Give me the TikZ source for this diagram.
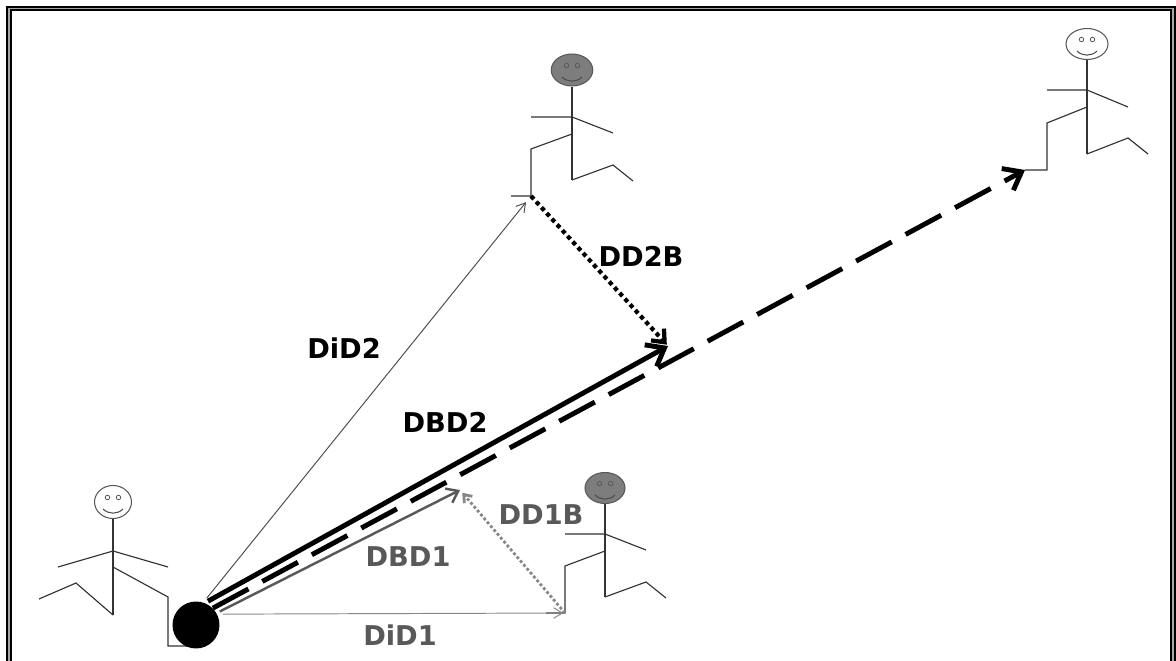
\documentclass[tikz,border=0pt]{standalone}
\usepackage{fontspec}
\setmainfont{DejaVu Sans}
\usepackage{tikz}
\usetikzlibrary{
    arrows.meta,
    shapes.geometric
}
\usepackage{xcolor}
\definecolor{labelgray}{RGB}{89,89,89}
\definecolor{facegray}{RGB}{125,125,125}
\definecolor{linegray}{RGB}{135,135,135}

% eyes and smile inside a head node
\newcommand{\smiley}[1]{%
    \draw[black!65, line width=0.45pt] ([shift={(-5.5,-4.5)}]#1.center) circle[radius=0.045cm];
    \draw[black!65, line width=0.45pt] ([shift={(5.5,-4.5)}]#1.center) circle[radius=0.045cm];
    \draw[black!70, line width=0.6pt] ([shift={(-10,7)}]#1.center) arc[start angle=225, end angle=315, radius=0.283cm];
}

\begin{document}
\begin{tikzpicture}[
    x=0.02cm, y=-0.02cm,
    limb/.style={draw=black!80, line width=0.65pt},
    head/.style={ellipse, draw=black!65, line width=0.6pt, inner sep=0pt, fill=white},
    ball/.style={circle, fill=black, minimum size=0.94cm, inner sep=0pt},
    lbl/.style={font=\bfseries\fontsize{15.5}{18}\selectfont, inner sep=0pt},
    thinarrow/.style={line width=0.55pt, -{Straight Barb[length=5pt, width=6pt]}},
    midarrow/.style={draw=labelgray, line width=1.4pt, -{Straight Barb[length=6pt, width=9pt]}},
    thickarrow/.style={line width=2.8pt, -{Straight Barb[length=9pt, width=14pt]}},
    dasharrow/.style={line width=2.8pt, dash pattern=on 23pt off 9pt, -{Straight Barb[length=9pt, width=14pt]}},
    dotblack/.style={line width=2.4pt, dash pattern=on 2.4pt off 2pt, -{Straight Barb[length=6pt, width=10pt]}},
    dotgray/.style={draw=linegray, line width=1.6pt, dash pattern=on 1.6pt off 1.3pt, -{Straight Barb[length=4pt, width=6pt]}}
]

\clip (0,0) rectangle (1176,661);

% Frame
\draw[line width=1.1pt, double=gray!70, double distance=0.9pt] (9,8.5) rectangle (1173,700);

% Stick figure bottom left
\node[head, minimum width=0.74cm, minimum height=0.66cm] (hA) at (113,502) {};
\smiley{hA}
\draw[limb] (hA.south) -- (113,615);
\draw[limb] (58,567) -- (113,551) -- (168,567);
\draw[limb] (39,599) -- (76,583) -- (113,615);
\draw[limb] (113,567) -- (168,597) -- (168,646) -- (190,646);

% Stick figure top middle
\node[head, fill=facegray, minimum width=0.83cm, minimum height=0.64cm] (hB) at (572,70) {};
\smiley{hB}
\draw[limb] (hB.south) -- (572,180);
\draw[limb] (531,117) -- (572,117) -- (613,133);
\draw[limb] (572,180) -- (613,165) -- (633,181);
\draw[limb] (572,134) -- (531,149) -- (531,196) -- (511,196);

% Stick figure top right
\node[head, minimum width=0.84cm, minimum height=0.62cm] (hC) at (1087,44) {};
\smiley{hC}
\draw[limb] (hC.south) -- (1087,154);
\draw[limb] (1047,90) -- (1087,90) -- (1128,107);
\draw[limb] (1087,154) -- (1128,138) -- (1148,154);
\draw[limb] (1087,107) -- (1047,123) -- (1047,170) -- (1025,170);

% Stick figure bottom right
\node[head, fill=facegray, minimum width=0.8cm, minimum height=0.62cm] (hD) at (605,488) {};
\smiley{hD}
\draw[limb] (hD.south) -- (605,597);
\draw[limb] (565,534) -- (605,534) -- (646,550);
\draw[limb] (605,597) -- (646,582) -- (666,598);
\draw[limb] (605,551) -- (565,566) -- (565,613) -- (546,613);

% Feet and meeting points
\coordinate (footB) at (531,196);
\coordinate (toeC) at (1025,170);
\coordinate (footD) at (565,613);
\coordinate (meet1) at (460,490);
\coordinate (meet2) at (668,346);

\node[ball] (ball) at (196,625) {};

% Arrows
\draw[thinarrow, black!70, shorten <=3pt, shorten >=4.5pt] (ball.72) -- (footB);
\draw[thinarrow, linegray, shorten <=3pt, shorten >=1pt] (ball.27) -- (footD);
\draw[midarrow, shorten <=2pt] (ball.30) -- (meet1);
\draw[dotgray, shorten >=2pt] (footD) -- (meet1);
\draw[thickarrow, shorten <=2pt] (ball.68) -- (meet2);
\draw[dotblack, shorten >=1pt] (footB) -- (meet2);
\draw[dasharrow] (ball.45) -- (toeC);

% Labels
\node[lbl] (lDiD2) at (344,348) {DiD2};
\node[lbl] (lDD2B) at (641,256) {DD2B};
\node[lbl] (lDBD2) at (445,422) {DBD2};
\node[lbl, labelgray] (lDD1B) at (541,515) {DD1B};
\node[lbl, labelgray] (lDBD1) at (408,557) {DBD1};
\node[lbl, labelgray] (lDiD1) at (400,635) {DiD1};

\end{tikzpicture}
\end{document}
